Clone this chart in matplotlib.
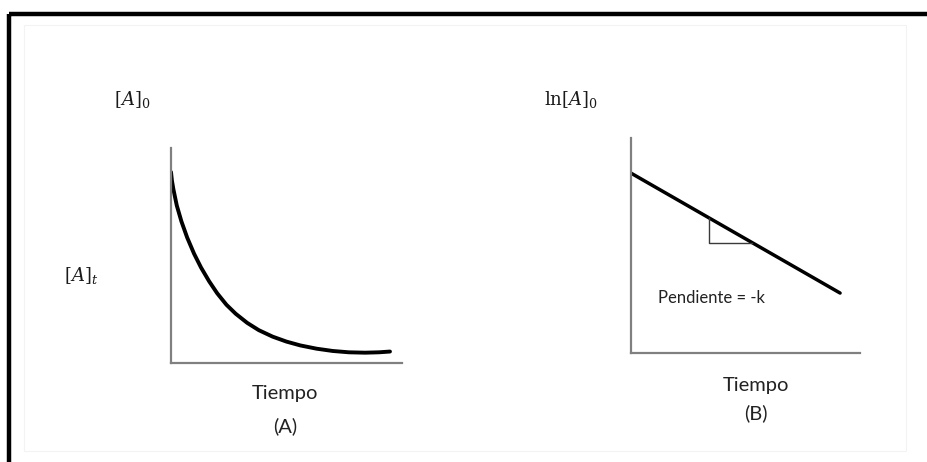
import numpy as np
import matplotlib
matplotlib.use("Agg")
from matplotlib import pyplot as plt
from matplotlib.patches import Rectangle

W, H = 927, 462

# panel A: concentration vs time (first order decay)
decay_t = [0, 0.04, 0.1, 0.25, 0.45, 0.7, 1.0, 1.3, 1.65, 2.0, 2.4, 2.8, 3.3,
           3.8, 4.4, 5.0, 5.6, 6.3, 7.0, 7.7, 8.4, 9.0, 9.48]
decay_c = [1.0, 0.955, 0.912, 0.825, 0.742, 0.657, 0.572, 0.50, 0.428, 0.365, 0.305, 0.258, 0.21,
           0.172, 0.138, 0.112, 0.092, 0.075, 0.063, 0.056, 0.054, 0.056, 0.060]

# panel B: ln[A] vs time (straight line)
ln_t = [0, 9.13]
ln_c = [0.942, 0.314]
slope_t = [3.4, 5.3]   # legs of the slope triangle

axis_grey = "#808080"


def px(x, y):
    # pixel position (from top-left) -> figure fraction
    return x / W, 1 - y / H


def box(x0, y_top, x1, y_bot):
    l, t = px(x0, y_top)
    r, b = px(x1, y_bot)
    return [l, b, r - l, t - b]


def setup(ax):
    for s in ("top", "right"):
        ax.spines[s].set_visible(False)
    for s in ("left", "bottom"):
        ax.spines[s].set_color(axis_grey)
        ax.spines[s].set_linewidth(1.6)
    ax.set_xticks([])
    ax.set_yticks([])
    ax.set_xlim(0, 10)
    ax.set_ylim(0, 1.126)
    ax.patch.set_alpha(0)


plt.rcParams["mathtext.fontset"] = "dejavuserif"
fig = plt.figure(figsize=(W / 100, H / 100), dpi=100)
fig.patch.set_facecolor("white")

# outer frame (only top and left edges fall inside the image)
fig.patches.append(Rectangle(px(9, 14), 2, -2, transform=fig.transFigure,
                             fill=False, edgecolor="black", linewidth=3.2, clip_on=False))
fig.patches.append(Rectangle(px(24, 451), (906 - 24) / W, (451 - 25) / H,
                             transform=fig.transFigure, fill=False,
                             edgecolor="#f3f3f3", linewidth=0.8))

axA = fig.add_axes(box(171, 148, 402, 363))
setup(axA)
axA.plot(decay_t, decay_c, color="black", lw=2.8,
         solid_capstyle="round", solid_joinstyle="round")

axB = fig.add_axes(box(631, 138, 860, 353))
setup(axB)
axB.plot(ln_t, ln_c, color="black", lw=2.5, solid_capstyle="round")
c_hi, c_lo = np.interp(slope_t, ln_t, ln_c)
axB.plot([slope_t[0], slope_t[0], slope_t[1]], [c_hi, c_lo, c_lo],
         color="#3a3a3a", lw=1.0)
axB.text(0.118, 0.255, "Pendiente = -k", transform=axB.transAxes,
         family="Lato", fontsize=12, color="#222222", va="center")

serif = dict(fontsize=13, color="#1a1a1a", ha="center", va="center")
fig.text(*px(132, 100), r"$[A]_0$", **serif)
fig.text(*px(81, 276), r"$[A]_t$", **serif)
fig.text(*px(571, 100), r"$\mathrm{ln}[A]_0$", **serif)

sans = dict(family="Lato", fontsize=14.5, color="#222222", ha="center", va="center")
fig.text(*px(285, 394), "Tiempo", **sans)
fig.text(*px(285, 426), "(A)", **sans)
fig.text(*px(756, 386), "Tiempo", **sans)
fig.text(*px(756, 413), "(B)", **sans)

fig.savefig("out.png", dpi=100)
